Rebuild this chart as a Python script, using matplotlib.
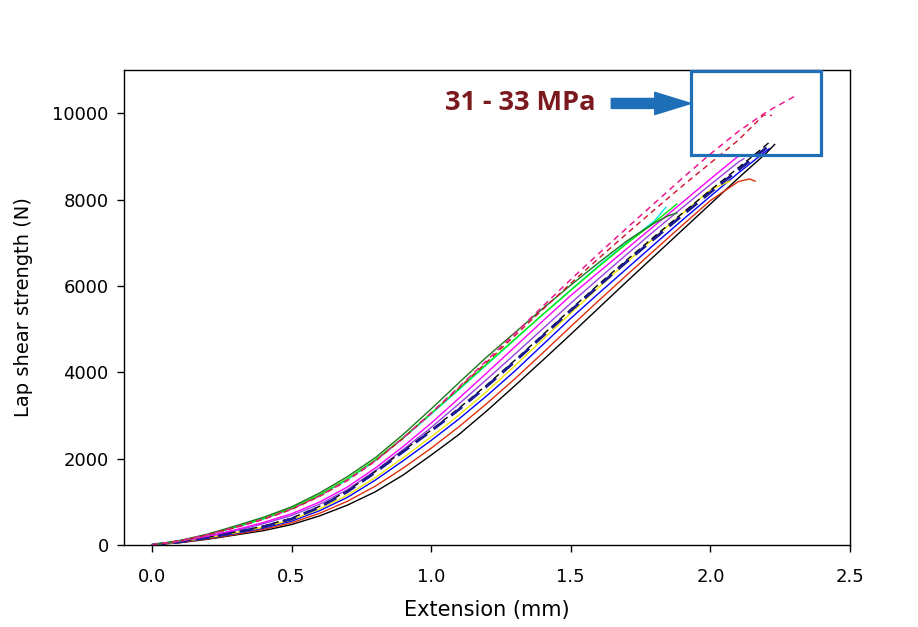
import matplotlib
matplotlib.use("Agg")
import matplotlib.pyplot as plt
from matplotlib.patches import Rectangle

# extension (mm) grid shared by most specimens, step 0.1
grid = [round(0.1 * i, 1) for i in range(23)]  # 0.0 .. 2.2

# specimen curves: extension (mm) and load (N)
x_black = grid + [2.23]
y_black = [0, 50, 130, 230, 330, 470, 670, 920, 1230, 1620, 2080, 2560, 3110,
           3690, 4280, 4880, 5490, 6100, 6700, 7300, 7900, 8500, 9080, 9280]

x_red = grid[:22] + [2.14, 2.16]
y_red = [0, 55, 140, 245, 360, 510, 730, 1010, 1360, 1780, 2240, 2740, 3280,
         3850, 4450, 5060, 5660, 6250, 6830, 7410, 7980, 8420, 8480, 8430]

x_blue = grid + [2.21]
y_blue = [0, 65, 155, 265, 390, 550, 790, 1100, 1500, 1950, 2420, 2920, 3460,
          4030, 4640, 5250, 5830, 6400, 6970, 7530, 8080, 8620, 9130, 9180]

x_yellow = grid[:21] + [2.07]
y_yellow = [0, 70, 165, 280, 410, 580, 830, 1150, 1560, 2020, 2500, 3010, 3560,
            4150, 4760, 5370, 5970, 6550, 7120, 7680, 8230, 8430]

x_navy = grid + [2.22]
y_navy = [0, 70, 170, 290, 420, 600, 870, 1230, 1680, 2160, 2640, 3140, 3680,
          4250, 4840, 5430, 6000, 6560, 7100, 7640, 8170, 8690, 9200, 9260]

x_kdash = grid[:22] + [2.18, 2.22]
y_kdash = [0, 72, 175, 300, 435, 620, 890, 1250, 1700, 2180, 2660, 3170, 3710,
           4280, 4870, 5460, 6040, 6600, 7150, 7690, 8220, 8740, 9160, 9380]

x_purple = grid[:22] + [2.12]
y_purple = [0, 80, 190, 330, 490, 680, 940, 1280, 1720, 2210, 2720, 3270, 3840,
            4420, 5010, 5600, 6170, 6730, 7280, 7820, 8350, 8870, 8950]

x_magenta = grid[:22]
y_magenta = [0, 85, 200, 350, 520, 720, 990, 1340, 1780, 2280, 2820, 3400, 3990,
             4590, 5190, 5780, 6320, 6860, 7400, 7940, 8480, 9010]

x_cyan = grid[:19] + [1.84]
y_cyan = [0, 95, 230, 405, 600, 835, 1140, 1510, 1950, 2470, 3030, 3600, 4180,
          4760, 5340, 5910, 6470, 7000, 7510, 7820]

x_lime = grid[:19] + [1.88]
y_lime = [0, 95, 235, 415, 610, 850, 1160, 1530, 1970, 2490, 3050, 3620, 4200,
          4770, 5340, 5900, 6450, 6980, 7480, 7900]

x_green = grid[:19] + [1.85, 1.88]
y_green = [0, 100, 250, 440, 640, 880, 1200, 1580, 2020, 2560, 3150, 3760, 4360,
           4920, 5480, 6020, 6540, 7040, 7460, 7630, 7690]

x_reddash = grid[:22] + [2.15, 2.19, 2.22]
y_reddash = [0, 95, 230, 400, 590, 820, 1120, 1490, 1940, 2470, 3050, 3640, 4240,
             4850, 5460, 6060, 6640, 7210, 7770, 8320, 8850, 9380, 9700, 9960, 9950]

x_pink = grid + [2.3]
y_pink = [0, 95, 235, 410, 600, 830, 1130, 1500, 1950, 2480, 3060, 3660, 4280,
          4900, 5530, 6150, 6750, 7340, 7920, 8500, 9060, 9580, 10030, 10390]

curves = [
    (x_black, y_black, "black", "-", 1.0),
    (x_red, y_red, "#e0300a", "-", 1.0),
    (x_blue, y_blue, "#0000ff", "-", 1.0),
    (x_yellow, y_yellow, "#f2e600", "-", 1.0),
    (x_purple, y_purple, "#9a40e0", "-", 1.0),
    (x_kdash, y_kdash, "black", (0, (5, 3)), 1.0),
    (x_navy, y_navy, "#1a1a90", (0, (5, 3)), 2.0),
    (x_magenta, y_magenta, "#ff00ff", "-", 1.0),
    (x_cyan, y_cyan, "#00e5e5", "-", 1.0),
    (x_lime, y_lime, "#00ee00", "-", 1.0),
    (x_green, y_green, "#1a7a1a", "-", 1.0),
    (x_reddash, y_reddash, "#d0102a", (0, (4, 3)), 1.0),
    (x_pink, y_pink, "#ee1a90", (0, (4, 3)), 1.1),
]

plt.rcParams["font.family"] = ["DejaVu Sans"]

fig = plt.figure(figsize=(9.18, 6.27), dpi=100)
ax = fig.add_axes([0.135, 0.131, 0.791, 0.757])

for xs, ys, c, ls, lw in curves:
    ax.plot(xs, ys, color=c, linestyle=ls, linewidth=lw)

ax.set_xlim(-0.1, 2.5)
ax.set_ylim(0, 11000)
ax.set_xticks([0.0, 0.5, 1.0, 1.5, 2.0, 2.5])
ax.set_xticklabels(["0.0", "0.5", "1.0", "1.5", "2.0", "2.5"])
ax.set_yticks([0, 2000, 4000, 6000, 8000, 10000])
ax.tick_params(direction="out", length=5, width=1, labelsize=13)
ax.tick_params(axis="x", pad=12)
ax.tick_params(axis="y", pad=6)
for s in ax.spines.values():
    s.set_linewidth(1.0)

ax.set_xlabel("Extension (mm)", fontsize=15, labelpad=10)
ax.set_ylabel("Lap shear strength (N)", fontsize=14, labelpad=14)

# highlighted failure region
ax.add_patch(Rectangle((1.93, 9030), 0.466, 1960, fill=False,
                       edgecolor="#1f6eb8", linewidth=2.3, clip_on=False, zorder=5))
ax.annotate("", xy=(1.93, 10230), xytext=(1.645, 10230),
            arrowprops=dict(arrowstyle="simple,head_length=2.6,head_width=1.6,tail_width=0.72",
                            mutation_scale=10, color="#1f6eb8", shrinkA=0, shrinkB=0))
ax.text(1.05, 10250, "31 - 33 MPa", fontsize=19.5, fontweight="bold",
        family=["Open Sans", "DejaVu Sans"], color="#7a1a1e", ha="left", va="center")

fig.savefig("out.png", dpi=100)
